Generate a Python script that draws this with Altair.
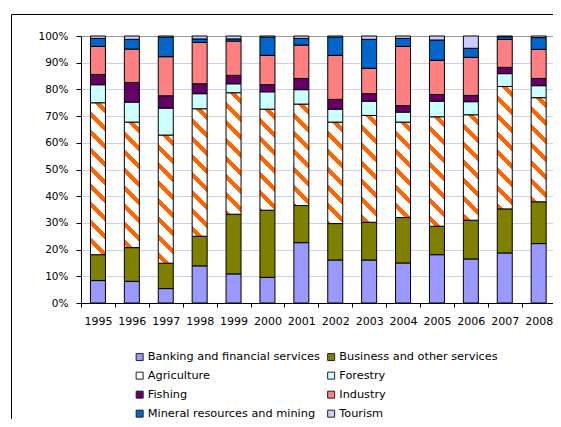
import altair as alt
import pandas as pd

years = ['1995', '1996', '1997', '1998', '1999', '2000', '2001', '2002',
         '2003', '2004', '2005', '2006', '2007', '2008']
categories = ['Banking and financial services', 'Business and other services',
              'Agriculture', 'Forestry', 'Fishing', 'Industry',
              'Mineral resources and mining', 'Tourism']

banking = [8.4, 8.1, 5.4, 13.9, 10.9, 9.6, 22.6, 16.1, 16.1, 15.0, 18.1, 16.5, 18.75, 22.25]
business = [9.7, 12.65, 9.5, 11.1, 22.35, 25.15, 13.9, 13.65, 14.15, 17.0, 10.65, 14.5, 16.5, 15.65]
agriculture = [56.9, 47.0, 48.0, 47.75, 45.5, 37.85, 38.0, 38.0, 40.0, 35.75, 41.0, 39.5, 45.85, 39.0]
forestry = [6.75, 7.5, 10.1, 5.65, 3.35, 6.5, 5.4, 4.85, 5.35, 3.75, 5.85, 4.9, 4.8, 4.5]
fishing = [3.85, 7.35, 4.6, 3.7, 3.15, 2.65, 4.2, 3.65, 2.8, 2.4, 2.5, 2.35, 2.35, 2.7]
industry = [10.5, 12.5, 14.65, 15.5, 12.85, 11.0, 12.5, 16.5, 9.5, 22.2, 12.8, 14.25, 10.5, 10.9]
mineral = [3.0, 3.65, 7.35, 1.3, 0.8, 6.85, 2.5, 6.85, 10.85, 3.0, 7.6, 3.4, 1.0, 4.4]
tourism = [0.9, 1.25, 0.4, 1.1, 1.1, 0.4, 0.9, 0.4, 1.25, 0.9, 1.5, 4.6, 0.25, 0.6]

colors = ['#9999FF', '#808000', '#FFFFFF', '#CCFFFF', '#660066', '#FF8080', '#0066CC', '#CCCCFF']
ORANGE = '#FF6600'
FONT = 'DejaVu Sans'

VIEW_W, PLOT_H = 472, 267   # visible view area
BAND_RANGE = 474.6          # band range for the 14 years
BAR_W = 15

series = [banking, business, agriculture, forestry, fishing, industry, mineral, tourism]
rows = []
for ci, (cat, vals) in enumerate(zip(categories, series)):
    for yr, v in zip(years, vals):
        rows.append({'year': yr, 'cat': cat, 'value': v, 'ord': ci})
df = pd.DataFrame(rows)


def stripe_gradient(h, w=BAR_W, period=18.0, thick=6.0):
    """Diagonal '\\' hatch as a linear gradient in bounding-box units."""
    L = h + w
    d = w * w + h * h
    vx = -w * L / d
    vy = h * L / d
    P = period / L
    O = thick / L
    stops = [{'offset': 0, 'color': 'white'}]
    a = P * 0.3
    while a < 1:
        b = min(a + O, 1.0)
        stops += [{'offset': round(a, 5), 'color': 'white'},
                  {'offset': round(a, 5), 'color': ORANGE},
                  {'offset': round(b, 5), 'color': ORANGE},
                  {'offset': round(b, 5), 'color': 'white'}]
        a += P
    stops.append({'offset': 1, 'color': 'white'})
    return {'gradient': 'linear', 'x1': 1, 'y1': 0,
            'x2': round(1 + vx, 5), 'y2': round(vy, 5), 'stops': stops}


conds = []
for i, yr in enumerate(years):
    total = sum(s[i] for s in series)
    h = agriculture[i] / total * PLOT_H
    conds.append({'test': f"datum.year == '{yr}' && datum.cat == 'Agriculture'",
                  'value': stripe_gradient(h)})

bars = alt.Chart(df).mark_bar(size=BAR_W, stroke='black', strokeWidth=1).encode(
    x=alt.X('year:N', sort=years,
            scale=alt.Scale(paddingInner=0, paddingOuter=0, range=[0, BAND_RANGE]),
            axis=alt.Axis(title=None, labelAngle=0, tickBand='extent', tickSize=4,
                          labelPadding=8, labelFontSize=11, grid=False)),
    y=alt.Y('value:Q', stack='normalize', scale=alt.Scale(domain=[0, 1]),
            axis=alt.Axis(title=None, format='.0%',
                          values=[0, 0.1, 0.2, 0.3, 0.4, 0.5, 0.6, 0.7, 0.8, 0.9, 1.0],
                          tickSize=5, labelPadding=8, labelFontSize=10.5,
                          grid=True, gridWidth=1,
                          gridColor=alt.condition('datum.value == 1',
                                                  alt.value('#999999'),
                                                  alt.value('#CCCCFF')))),
    color=alt.Color('cat:N', sort=categories,
                    scale=alt.Scale(domain=categories, range=colors),
                    condition=conds,
                    legend=alt.Legend(title=None, orient='none', legendX=53, legendY=315,
                                      columns=2, direction='horizontal',
                                      symbolType='square', symbolSize=49,
                                      symbolStrokeColor='#222222', symbolStrokeWidth=1,
                                      labelFontSize=11.3, labelFont=FONT, labelColor='black',
                                      rowPadding=6, columnPadding=5.5, labelOffset=2.5,
                                      padding=0, labelLimit=400)),
    order=alt.Order('ord:Q', sort='ascending'),
)

frame = alt.Chart(pd.DataFrame({'k': [0]})).mark_rect(
    fill='transparent', stroke='black', strokeWidth=1
).encode(x=alt.value(-69.5), x2=alt.value(800), y=alt.value(-21.5), y2=alt.value(700))

chart = alt.layer(frame, bars).properties(
    width=VIEW_W, height=PLOT_H,
    autosize=alt.AutoSizeParams(type='none'),
    padding={'left': 73, 'top': 28, 'right': 0, 'bottom': 116},
).configure_view(stroke=None).configure_axis(
    labelFont=FONT, labelColor='black', domainColor='black', tickColor='black',
    domainWidth=1, tickWidth=1
)

chart.save('out.html', embed_options={'renderer': 'svg', 'actions': False})
